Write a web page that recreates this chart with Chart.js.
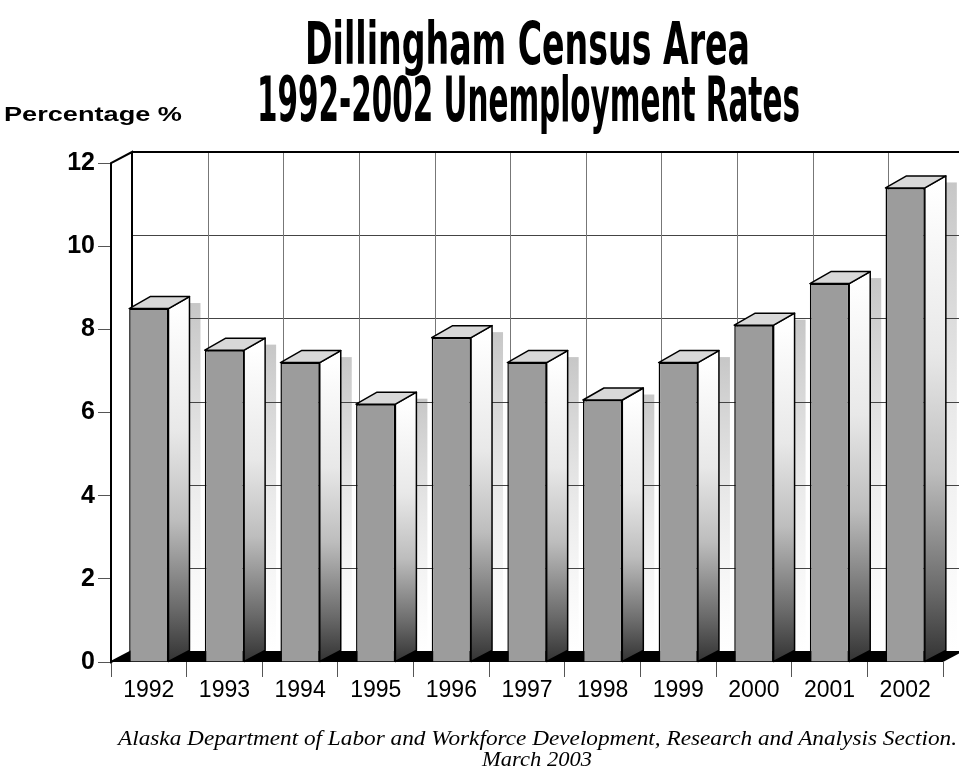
<!DOCTYPE html>
<html><head><meta charset="utf-8">
<script src="https://cdn.jsdelivr.net/npm/chart.js@4/dist/chart.umd.min.js"></script>
<style>
html,body{margin:0;padding:0;background:#fff;}
#wrap{position:relative;width:959px;height:773px;overflow:hidden;}
canvas{position:absolute;left:0;top:0;}
.t{position:absolute;white-space:nowrap;transform-origin:0 0;color:#000;}
.title{font-family:"Liberation Sans Narrow","DejaVu Sans Condensed",sans-serif;font-weight:bold;}
#t1{font-size:59px;line-height:59px;}
#t2{font-size:62px;line-height:62px;}
.ylab{font-family:"Liberation Sans",Arial,sans-serif;font-weight:bold;font-size:21px;line-height:21px;}
.src{font-family:"Liberation Serif","DejaVu Serif",serif;font-style:italic;font-size:22px;line-height:22px;}
</style></head>
<body><div id="wrap">
<canvas id="c" width="959" height="773"></canvas>
<div class="t title" id="t1" data-x="305" data-y="14" data-w="445">Dillingham Census Area</div>
<div class="t title" id="t2" data-x="257" data-y="69" data-w="543">1992-2002 Unemployment Rates</div>
<div class="t ylab" id="yl" data-x="4" data-y="103" data-w="178">Percentage %</div>
<div class="t src" id="s1" data-x="118" data-y="727" data-w="839">Alaska Department of Labor and Workforce Development, Research and Analysis Section.</div>
<div class="t src" id="s2" data-x="482" data-y="748" data-w="110">March 2003</div>
</div>
<script>
const categories = ["1992","1993","1994","1995","1996","1997","1998","1999","2000","2001","2002"];
const unemploymentRate = [8.5, 7.5, 7.2, 6.2, 7.8, 7.2, 6.3, 7.2, 8.1, 9.1, 11.4];
const yTicks = [0, 2, 4, 6, 8, 10, 12];

// fit text widths
document.querySelectorAll('.t').forEach(el=>{
  el.style.left = el.dataset.x+'px';
  el.style.top = el.dataset.y+'px';
  const w = el.getBoundingClientRect().width;
  el.style.transform = 'scaleX('+(parseFloat(el.dataset.w)/w)+')';
});

const DX = 21, DY = -11;

const box3d = {
  id:'box3d',
  beforeDatasetsDraw(chart){
    const {ctx, chartArea:a, scales:{x,y}} = chart;
    const n = categories.length;
    const cw = (a.right-a.left)/n;
    ctx.save();
    ctx.fillStyle='#fff';
    ctx.fillRect(a.left+DX, a.top+DY, a.right-a.left, a.bottom-a.top);
    // back-wall shadows behind bars
    chart.getDatasetMeta(0).data.forEach(b=>{
      const x0 = b.x + b.width/2 + DX;
      const g = ctx.createLinearGradient(0, b.y+DY, 0, a.bottom+DY);
      g.addColorStop(0,'rgba(150,150,150,0.55)');
      g.addColorStop(0.5,'rgba(170,170,170,0.25)');
      g.addColorStop(1,'rgba(200,200,200,0.0)');
      ctx.fillStyle=g;
      ctx.fillRect(x0, b.y+DY*0.5, 11, a.bottom+DY-(b.y+DY*0.5));
    });
    // grid lines on back wall
    ctx.strokeStyle='#444'; ctx.lineWidth=1;
    yTicks.forEach(v=>{
      const py = Math.round(y.getPixelForValue(v)+DY)+0.5;
      ctx.beginPath(); ctx.moveTo(a.left+DX, py); ctx.lineTo(a.right+DX, py); ctx.stroke();
    });
    ctx.strokeStyle='#777';
    for(let i=1;i<=n;i++){
      const px = Math.round(x.getPixelForValue(i-1)+cw/2+DX)+0.5;
      ctx.beginPath(); ctx.moveTo(px, a.top+DY); ctx.lineTo(px, a.bottom+DY); ctx.stroke();
    }
    ctx.strokeStyle='#000'; ctx.lineWidth=2;
    ctx.beginPath(); ctx.moveTo(a.left+DX, a.top+DY); ctx.lineTo(a.right+DX+20, a.top+DY); ctx.stroke();
    ctx.beginPath(); ctx.moveTo(a.left+DX, a.top+DY); ctx.lineTo(a.left+DX, a.bottom+DY); ctx.stroke();
    // left wall
    ctx.fillStyle='#fff';
    ctx.beginPath();
    ctx.moveTo(a.left, a.bottom); ctx.lineTo(a.left, a.top);
    ctx.lineTo(a.left+DX, a.top+DY); ctx.lineTo(a.left+DX, a.bottom+DY); ctx.closePath();
    ctx.fill(); ctx.lineWidth=2; ctx.stroke();
    // floor
    ctx.fillStyle='#000';
    ctx.beginPath();
    ctx.moveTo(a.left, a.bottom); ctx.lineTo(a.right, a.bottom);
    ctx.lineTo(a.right+DX, a.bottom+DY); ctx.lineTo(a.left+DX, a.bottom+DY); ctx.closePath();
    ctx.fill();
    ctx.restore();
  },
  afterDatasetsDraw(chart){
    const {ctx} = chart;
    ctx.save();
    ctx.strokeStyle='#000'; ctx.lineWidth=1.5; ctx.lineJoin='round';
    chart.getDatasetMeta(0).data.forEach(b=>{
      const l = b.x-b.width/2, r = b.x+b.width/2, t=b.y, bot=b.base;
      const g = ctx.createLinearGradient(0,t,0,bot);
      g.addColorStop(0,'#ffffff'); g.addColorStop(0.35,'#e8e8e8');
      g.addColorStop(0.6,'#bdbdbd'); g.addColorStop(0.85,'#6a6a6a'); g.addColorStop(1,'#333');
      ctx.fillStyle=g;
      ctx.beginPath();
      ctx.moveTo(r,t); ctx.lineTo(r+DX,t+DY-1); ctx.lineTo(r+DX,bot+DY); ctx.lineTo(r,bot); ctx.closePath();
      ctx.fill(); ctx.stroke();
      ctx.fillStyle='#d8d8d8';
      ctx.beginPath();
      ctx.moveTo(l,t); ctx.lineTo(l+DX,t+DY-1); ctx.lineTo(r+DX,t+DY-1); ctx.lineTo(r,t); ctx.closePath();
      ctx.fill(); ctx.stroke();
    });
    ctx.restore();
  }
};

new Chart(document.getElementById('c'), {
  type:'bar',
  data:{ labels:categories, datasets:[{
    data:unemploymentRate,
    backgroundColor:'#9c9c9c',
    borderColor:'#000', borderWidth:1.5,
    categoryPercentage:1.0, barPercentage:0.52
  }]},
  options:{
    responsive:false, animation:false,
    layout:{padding:{top:163, right:16, left:0, bottom:0}},
    plugins:{legend:{display:false}, tooltip:{enabled:false}, title:{display:false}},
    scales:{
      x:{
        offset:true,
        grid:{display:true, drawOnChartArea:false, drawTicks:true, tickLength:15, offset:true, color:'#555', lineWidth:1},
        border:{display:false},
        ticks:{color:'#000', font:{family:'"Liberation Sans", Arial, sans-serif', size:23}, padding:0, maxRotation:0},
        afterFit(s){ s.height = 773-662; }
      },
      y:{
        min:0, max:12,
        afterBuildTicks(s){ s.ticks = yTicks.map(v=>({value:v})); },
        grid:{display:true, drawOnChartArea:false, drawTicks:true, tickLength:13, color:'#555'},
        border:{display:false},
        ticks:{color:'#000', font:{family:'"Liberation Sans", Arial, sans-serif', size:25, weight:'bold'}, padding:3},
        afterFit(s){ s.width = 111; }
      }
    }
  },
  plugins:[box3d]
});
</script>
</body></html>
